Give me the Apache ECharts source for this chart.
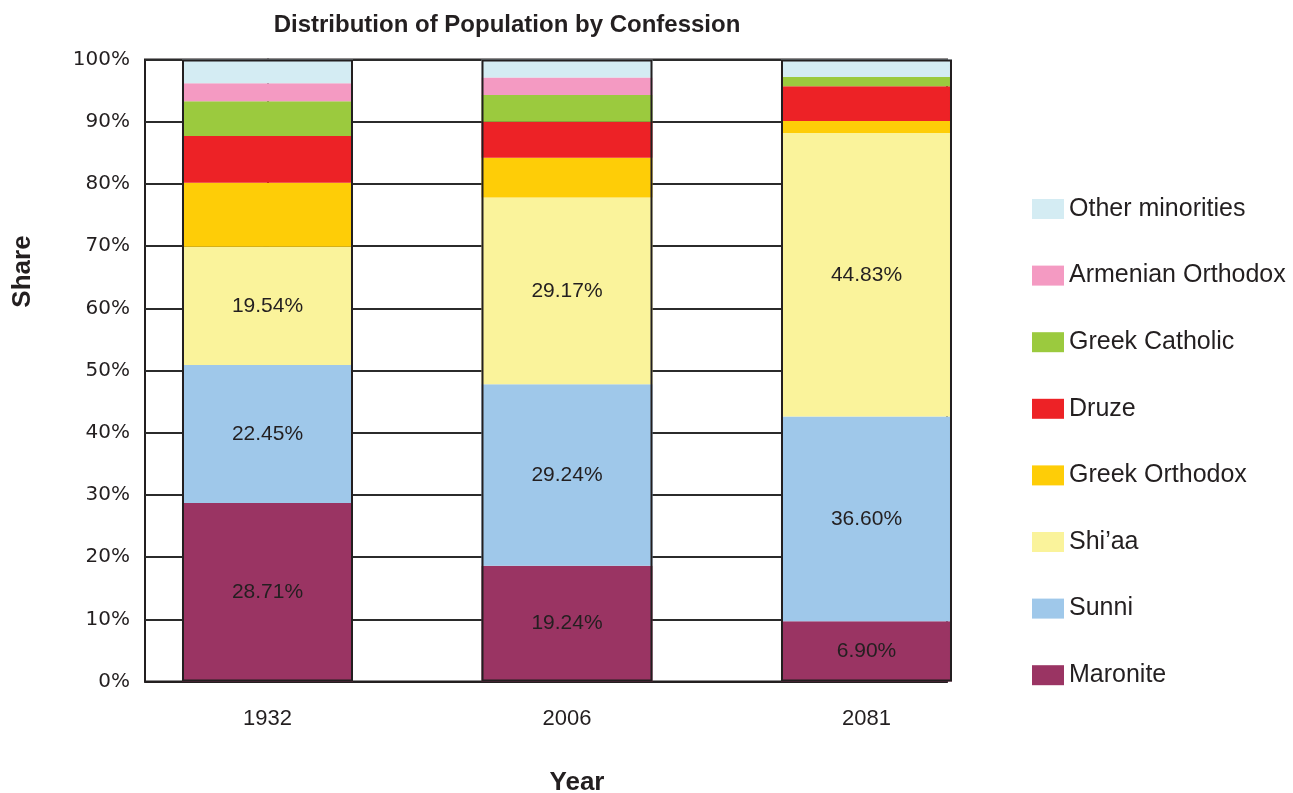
<!DOCTYPE html>
<html>
<head>
<meta charset="utf-8">
<script src="https://cdn.jsdelivr.net/npm/echarts@6/dist/echarts.min.js"></script>
<style>
html,body{margin:0;padding:0;background:#fff;}
#chart{width:1293px;height:793px;}
</style>
</head>
<body>
<div id="chart"></div>
<script>
// ---- data ----
var years = ['1932', '2006', '2081'];
var confessions = ['Maronite', 'Sunni', 'Shi\u2019aa', 'Greek Orthodox', 'Druze', 'Greek Catholic', 'Armenian Orthodox', 'Other minorities'];
var maronite        = [28.7,  18.6,  9.7];
var sunni           = [22.2,  29.2, 32.9];
var shiaa           = [19.0,  30.0, 45.6];
var greekOrthodox   = [10.3,   6.4,  1.9];
var druze           = [ 7.5,   5.8,  5.6];
var greekCatholic   = [ 5.6,   4.3,  1.5];
var armenian        = [ 2.9,   2.8,  0.0];
var otherMinorities = [ 3.8,   2.9,  2.8];
var maroniteLabels  = ['28.71%', '19.24%', '6.90%'];
var sunniLabels     = ['22.45%', '29.24%', '36.60%'];
var shiaaLabels     = ['19.54%', '29.17%', '44.83%'];
var yTicks = [0, 10, 20, 30, 40, 50, 60, 70, 80, 90, 100];
var chartTitle = 'Distribution of Population by Confession';

var seriesValues = [maronite, sunni, shiaa, greekOrthodox, druze, greekCatholic, armenian, otherMinorities];
var seriesLabels = [maroniteLabels, sunniLabels, shiaaLabels, null, null, null, null, null];
var colors = ['#9a3463', '#9fc8ea', '#faf39b', '#fecd07', '#ed2226', '#9bca3e', '#f49ac2', '#d4ecf3'];

var INK = '#231f20';
var BAR_W = 171;

// data rows are [value, yearIndex]; value first so stacking runs on the value dimension
var series = confessions.map(function (name, i) {
  var lbl = seriesLabels[i];
  return {
    name: name,
    type: 'bar',
    stack: 'total',
    clip: true,
    barWidth: BAR_W,
    barGap: '-100%',
    encode: { x: 1, y: 0 },
    data: years.map(function (y, j) { return [seriesValues[i][j], j]; }),
    itemStyle: { color: colors[i] },
    label: lbl ? {
      show: true,
      position: 'inside',
      formatter: function (p) { return lbl[p.dataIndex]; },
      fontFamily: 'Liberation Sans, Arial, sans-serif',
      fontSize: 21,
      color: INK
    } : { show: false },
    emphasis: { disabled: true }
  };
});

var totals = years.map(function (y, j) {
  return seriesValues.reduce(function (s, arr) { return s + arr[j]; }, 0);
});
series.push({
  name: 'outline',
  type: 'bar',
  clip: true,
  barWidth: BAR_W,
  barGap: '-100%',
  z: 5,
  silent: true,
  encode: { x: 1, y: 0 },
  data: years.map(function (y, j) { return [totals[j], j]; }),
  itemStyle: { color: 'rgba(0,0,0,0)', borderColor: INK, borderWidth: 2 },
  label: { show: false },
  emphasis: { disabled: true }
});

var chart = echarts.init(document.getElementById('chart'), null, { renderer: 'canvas' });
chart.setOption({
  backgroundColor: '#ffffff',
  animation: false,
  title: {
    text: chartTitle,
    left: 502,
    top: 8,
    textAlign: 'center',
    textStyle: {
      fontFamily: 'Liberation Sans, Arial, sans-serif',
      fontSize: 24,
      fontWeight: 'bold',
      color: INK
    }
  },
  legend: {
    orient: 'vertical',
    left: 1032,
    top: 196.5,
    padding: 0,
    itemWidth: 32,
    itemHeight: 20,
    itemGap: 41.6,
    icon: 'rect',
    selectedMode: false,
    data: confessions.slice().reverse(),
    textStyle: {
      fontFamily: 'Liberation Sans, Arial, sans-serif',
      fontSize: 25,
      color: INK
    }
  },
  grid: {
    left: 145,
    right: 346,
    top: 59.5,
    bottom: 111.5,
    outerBoundsMode: 'none',
    show: true,
    borderColor: INK,
    borderWidth: 2,
    backgroundColor: 'rgba(0,0,0,0)'
  },
  xAxis: {
    type: 'value',
    min: -0.409,
    max: 2.2688,
    axisLine: { show: true, lineStyle: { color: INK, width: 2 } },
    axisTick: { show: false },
    splitLine: { show: false },
    axisLabel: {
      customValues: [0, 1, 2],
      formatter: function (v) { return years[Math.round(v)] || ''; },
      margin: 26,
      fontFamily: 'Liberation Sans, Arial, sans-serif',
      fontSize: 22,
      color: INK
    },
    name: 'Year',
    nameLocation: 'middle',
    nameGap: 88,
    nameMoveOverlap: false,
    nameTextStyle: {
      fontFamily: 'Liberation Sans, Arial, sans-serif',
      fontWeight: 'bold',
      fontSize: 26,
      color: INK,
      padding: [0, 0, 0, 62]
    }
  },
  yAxis: {
    type: 'value',
    min: yTicks[0],
    max: yTicks[yTicks.length - 1],
    interval: 10,
    axisLine: { show: true, lineStyle: { color: INK, width: 2 } },
    axisTick: { show: true, inside: false, length: 4, lineStyle: { color: INK, width: 2 } },
    splitLine: { show: true, lineStyle: { color: '#2b2b2b', width: 2 } },
    axisLabel: {
      formatter: '{value}%',
      margin: 15,
      fontFamily: 'DejaVu Sans, sans-serif',
      fontSize: 20,
      color: INK
    },
    name: 'Share',
    nameLocation: 'middle',
    nameRotate: 90,
    nameGap: 109,
    nameMoveOverlap: false,
    nameTextStyle: {
      fontFamily: 'Liberation Sans, Arial, sans-serif',
      fontWeight: 'bold',
      fontSize: 26,
      color: INK,
      padding: [0, 0, 0, 198]
    }
  },
  series: series
});
</script>
</body>
</html>
